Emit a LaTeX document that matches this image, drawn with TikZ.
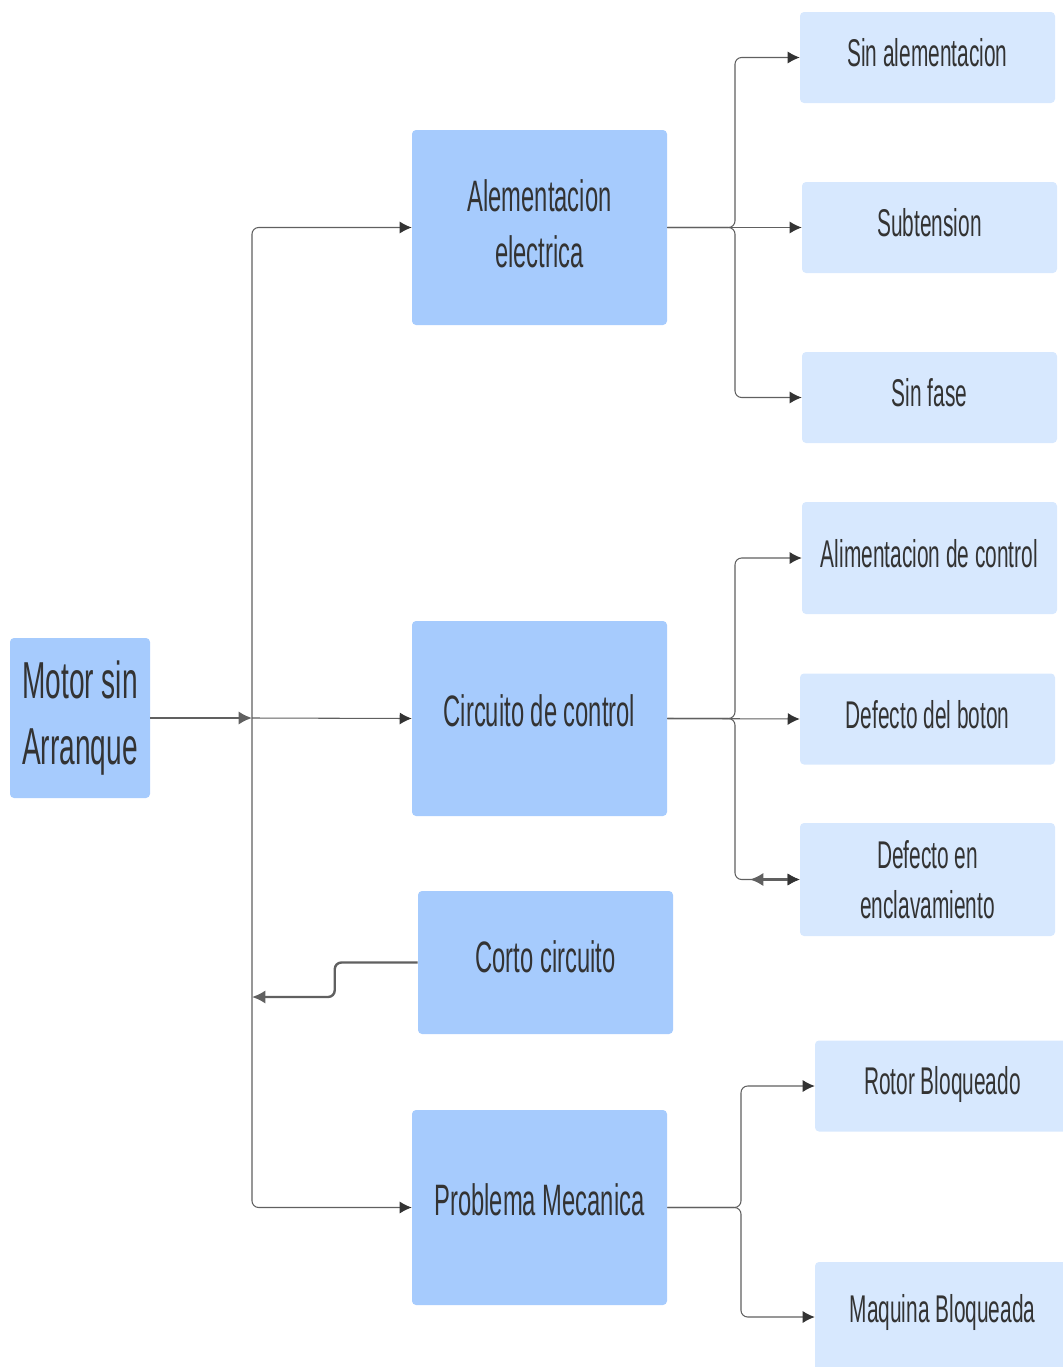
\documentclass[tikz,border=0pt]{standalone}
\usepackage{fontspec}
\setmainfont{Liberation Sans}[FakeStretch=0.54]
\usepackage{tikz}
\usetikzlibrary{arrows.meta}

\definecolor{mainbox}{HTML}{A6CBFD}
\definecolor{subbox}{HTML}{D7E8FE}
\definecolor{inkgray}{HTML}{333333}
\definecolor{wiregray}{HTML}{606060}

\tikzset{
  box/.style={rounded corners=3pt, inner sep=0pt, align=center, text=inkgray},
  mainnode/.style={box, fill=mainbox, minimum width=191.25pt, minimum height=146.25pt,
    font=\fontsize{33}{42}\selectfont},
  subnode/.style={box, fill=subbox, minimum width=191.25pt, minimum height=68.25pt,
    font=\fontsize{29}{37.5}\selectfont},
  lift/.style={text depth=#1},
  link/.style={draw=wiregray, line width=0.8pt, rounded corners=5pt,
    -{Latex[length=9pt,width=9pt,color=inkgray]}},
  heavy/.style={draw=wiregray, line width=1.8pt, rounded corners=5pt,
    -{Latex[length=10pt,width=10pt]}}
}

\begin{document}
\begin{tikzpicture}[x=0.75pt,y=-0.75pt]
\useasboundingbox (0,0) rectangle (1063,1367);

% root
\node[box, fill=mainbox, minimum width=105pt, minimum height=120pt,
  font=\fontsize{39}{49}\selectfont] (motor) at (80,718) {Motor sin\\Arranque};

% first level
\node[mainnode, lift=6pt] (alim) at (539.5,227.5) {Alementacion\\electrica};
\node[mainnode, lift=12pt] (circ) at (539.5,718.5) {Circuito de control};
\node[mainnode, lift=9pt, minimum height=107.25pt] (corto) at (545.5,962.5) {Corto circuito};
\node[mainnode, lift=12pt] (mech) at (539.5,1207.5) {Problema Mecanica};

% second level
\node[subnode, lift=7.5pt] (sinal) at (927.5,57.5) {Sin alementacion};
\node[subnode, lift=7.5pt] (subt) at (929.5,227.5) {Subtension};
\node[subnode, lift=7.5pt] (sinfase) at (929.5,397.5) {Sin fase};
\node[subnode, lift=7.5pt, minimum height=84pt] (alctl) at (929.5,558) {Alimentacion de control};
\node[subnode, lift=7pt] (boton) at (927.5,719) {Defecto del boton};
\node[subnode, minimum height=84.75pt] (encl) at (927.5,879.5) {Defecto en\\enclavamiento};
\node[subnode, lift=8pt] (rotor) at (942.5,1086) {Rotor Bloqueado};
\node[subnode, lift=13pt, minimum height=82.5pt] (maq) at (942.5,1317) {Maquina Bloqueada};

% trunk
\coordinate (hub) at (252,718);
\coordinate (back) at (252,997);
\draw[heavy] (motor.east) -- (hub);
\draw[link] (hub) |- (alim.west);
\draw[link] (hub) -- (circ.west);
\draw[link] (hub) |- (mech.west);
\draw[heavy] (corto.west) -- ++(-83,0) |- (back);

% branches
\draw[link] (alim.east) -- (735,227.5) |- (sinal.west);
\draw[link] (alim.east) -- (subt.west);
\draw[link] (alim.east) -- (735,227.5) |- (sinfase.west);

\draw[link] (circ.east) -- (735,718.5) |- (alctl.west);
\draw[link] (circ.east) -- (boton.west);
\draw[link] (circ.east) -- (735,718.5) |- (encl.west);
\coordinate (enclback) at (750,879.5);
\draw[link, line width=1.6pt, {Latex[length=10pt,width=10pt]}-{Latex[length=9pt,width=9pt,color=inkgray]}] (enclback) -- (encl.west);

\draw[link] (mech.east) -- (741,1207.5) |- (rotor.west);
\draw[link] (mech.east) -- (741,1207.5) |- (maq.west);
\end{tikzpicture}
\end{document}
